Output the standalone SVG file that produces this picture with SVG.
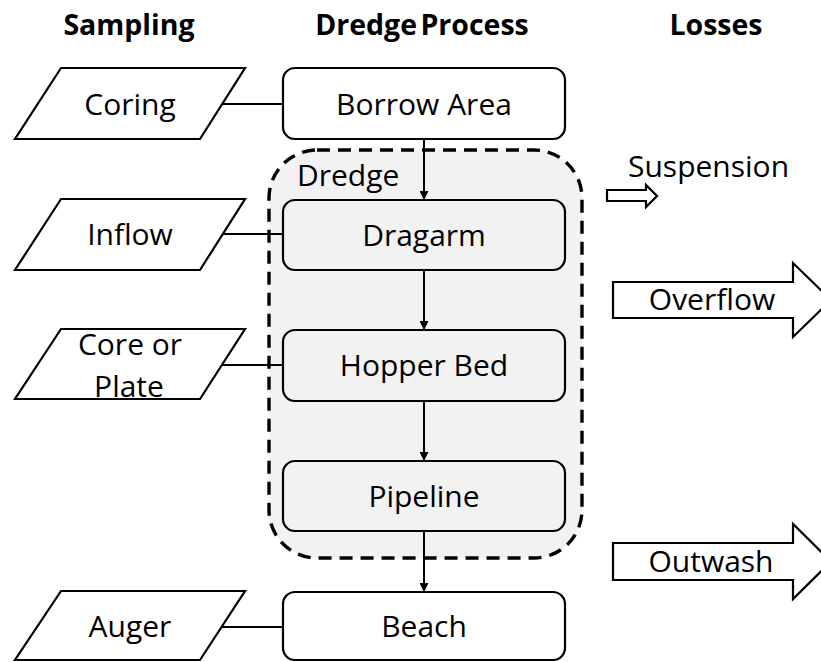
<svg xmlns="http://www.w3.org/2000/svg" width="821" height="662" viewBox="0 0 821 662">
<style>
.t{font-family:"Open Sans","Liberation Sans",sans-serif;font-size:30px;fill:#000}
.h{font-family:"Open Sans","Liberation Sans",sans-serif;font-size:28.5px;font-weight:bold;fill:#000}
.c{text-anchor:middle}
.box{stroke:#000;stroke-width:2.2}
.w{fill:#fff}
.g{fill:#f2f2f2}
.par{fill:#fff;stroke:#000;stroke-width:2.2}
.ln{stroke:#000;stroke-width:2;fill:none}
.blk{fill:#fff;stroke:#000;stroke-width:2.2}
</style>
<defs>
<marker id="ah" viewBox="0 0 10 10" refX="10" refY="5" markerWidth="9" markerHeight="9" markerUnits="userSpaceOnUse" orient="auto">
<path d="M0,0 L10,5 L0,10 z" fill="#000"/>
</marker>
</defs>
<rect width="821" height="662" fill="#fff"/>
<g id="headers">
<text class="h c" x="129" y="35">Sampling</text>
<text class="h c" x="422" y="35" word-spacing="-4">Dredge Process</text>
<text class="h c" x="716" y="35">Losses</text>
</g>
<g id="dredge-group">
<rect x="269" y="150" width="313" height="408" rx="48" fill="#f2f2f2" stroke="#000" stroke-width="3.4" stroke-dasharray="13 8"/>
<text class="t" x="297" y="186">Dredge</text>
</g>
<g id="connectors">
<line class="ln" x1="222" y1="104" x2="283" y2="104"/>
<line class="ln" x1="222" y1="234" x2="283" y2="234"/>
<line class="ln" x1="222" y1="365" x2="283" y2="365"/>
<line class="ln" x1="222" y1="627" x2="283" y2="627"/>
<line class="ln" x1="424" y1="139" x2="424" y2="200" marker-end="url(#ah)"/>
<line class="ln" x1="424" y1="270" x2="424" y2="330" marker-end="url(#ah)"/>
<line class="ln" x1="424" y1="401" x2="424" y2="461" marker-end="url(#ah)"/>
<line class="ln" x1="424" y1="531" x2="424" y2="592" marker-end="url(#ah)"/>
</g>
<g id="coring">
<polygon class="par" points="61,68 245,68 200,139 15,139"/>
<text class="t c" x="130" y="115">Coring</text>
</g>
<g id="inflow">
<polygon class="par" points="61,199 245,199 200,270 15,270"/>
<text class="t c" x="130" y="245">Inflow</text>
</g>
<g id="core-plate">
<polygon class="par" points="61,329 245,329 200,399 15,399"/>
<text class="t c" x="130" y="355">Core or</text>
<text class="t c" x="129" y="397">Plate</text>
</g>
<g id="auger">
<polygon class="par" points="61,591 245,591 200,660 15,660"/>
<text class="t c" x="130" y="637">Auger</text>
</g>
<g id="borrow-area">
<rect class="box w" x="283" y="68" width="282" height="71" rx="12"/>
<text class="t c" x="424" y="115">Borrow Area</text>
</g>
<g id="dragarm">
<rect class="box g" x="283" y="200" width="282" height="70" rx="12"/>
<text class="t c" x="424" y="246">Dragarm</text>
</g>
<g id="hopper-bed">
<rect class="box g" x="283" y="330" width="282" height="71" rx="12"/>
<text class="t c" x="424" y="376">Hopper Bed</text>
</g>
<g id="pipeline">
<rect class="box g" x="283" y="461" width="282" height="70" rx="12"/>
<text class="t c" x="424" y="507">Pipeline</text>
</g>
<g id="beach">
<rect class="box w" x="283" y="592" width="282" height="68" rx="12"/>
<text class="t c" x="424" y="637">Beach</text>
</g>
<g id="suspension">
<polygon class="blk" points="607,190 646,190 646,185 657,196 646,207 646,201 607,201"/>
<text class="t" x="628" y="177">Suspension</text>
</g>
<g id="overflow">
<polygon class="blk" points="613,282 793,282 793,263 831,300 793,337 793,318 613,318"/>
<text class="t c" x="712" y="310">Overflow</text>
</g>
<g id="outwash">
<polygon class="blk" points="613,543 793,543 793,524 831,561.5 793,599 793,580 613,580"/>
<text class="t c" x="711" y="572">Outwash</text>
</g>
</svg>
